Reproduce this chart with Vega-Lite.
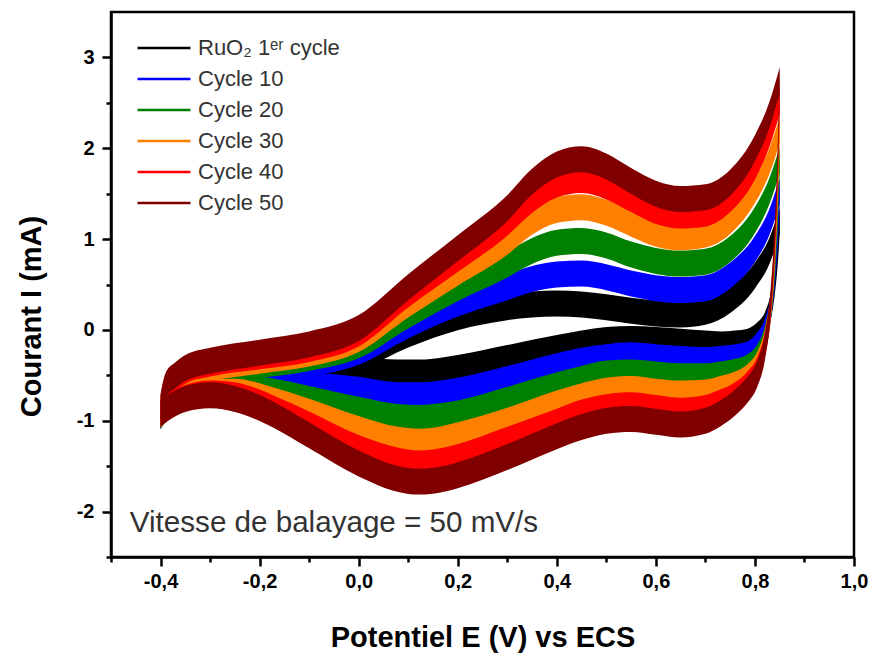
{
  "$schema": "https://vega.github.io/schema/vega-lite/v6.json",
  "width": 743,
  "height": 545,
  "autosize": {"type": "none"},
  "padding": {"left": 111, "top": 12, "right": 18, "bottom": 100},
  "background": "white",
  "config": {
    "font": "Liberation Sans",
    "view": {"stroke": "black", "strokeWidth": 2.5}
  },
  "datasets": {
    "curves": [
      {"c":"RuO₂ 1ᵉʳ cycle","b":"a","E":-0.4,"I":-0.95},{"c":"RuO₂ 1ᵉʳ cycle","b":"a","E":-0.39,"I":-0.78},{"c":"RuO₂ 1ᵉʳ cycle","b":"a","E":-0.37,"I":-0.68},{"c":"RuO₂ 1ᵉʳ cycle","b":"a","E":-0.35,"I":-0.62},{"c":"RuO₂ 1ᵉʳ cycle","b":"a","E":-0.3,"I":-0.56},{"c":"RuO₂ 1ᵉʳ cycle","b":"a","E":-0.2,"I":-0.49},{"c":"RuO₂ 1ᵉʳ cycle","b":"a","E":-0.1,"I":-0.42},{"c":"RuO₂ 1ᵉʳ cycle","b":"a","E":0.0,"I":-0.3},{"c":"RuO₂ 1ᵉʳ cycle","b":"a","E":0.1,"I":-0.05},{"c":"RuO₂ 1ᵉʳ cycle","b":"a","E":0.2,"I":0.14},{"c":"RuO₂ 1ᵉʳ cycle","b":"a","E":0.3,"I":0.25},{"c":"RuO₂ 1ᵉʳ cycle","b":"a","E":0.35,"I":0.28},{"c":"RuO₂ 1ᵉʳ cycle","b":"a","E":0.4,"I":0.29},{"c":"RuO₂ 1ᵉʳ cycle","b":"a","E":0.45,"I":0.28},{"c":"RuO₂ 1ᵉʳ cycle","b":"a","E":0.5,"I":0.25},{"c":"RuO₂ 1ᵉʳ cycle","b":"a","E":0.55,"I":0.21},{"c":"RuO₂ 1ᵉʳ cycle","b":"a","E":0.6,"I":0.18},{"c":"RuO₂ 1ᵉʳ cycle","b":"a","E":0.65,"I":0.17},{"c":"RuO₂ 1ᵉʳ cycle","b":"a","E":0.7,"I":0.2},{"c":"RuO₂ 1ᵉʳ cycle","b":"a","E":0.75,"I":0.33},{"c":"RuO₂ 1ᵉʳ cycle","b":"a","E":0.8,"I":0.6},{"c":"RuO₂ 1ᵉʳ cycle","b":"a","E":0.83,"I":0.88},{"c":"RuO₂ 1ᵉʳ cycle","b":"a","E":0.85,"I":1.2},
      {"c":"RuO₂ 1ᵉʳ cycle","b":"c","E":0.85,"I":1.2},{"c":"RuO₂ 1ᵉʳ cycle","b":"c","E":0.846,"I":0.86},{"c":"RuO₂ 1ᵉʳ cycle","b":"c","E":0.84,"I":0.53},{"c":"RuO₂ 1ᵉʳ cycle","b":"c","E":0.832,"I":0.26},{"c":"RuO₂ 1ᵉʳ cycle","b":"c","E":0.82,"I":0.05},{"c":"RuO₂ 1ᵉʳ cycle","b":"c","E":0.805,"I":-0.06},{"c":"RuO₂ 1ᵉʳ cycle","b":"c","E":0.785,"I":-0.13},
      {"c":"RuO₂ 1ᵉʳ cycle","b":"c","E":0.76,"I":-0.15},{"c":"RuO₂ 1ᵉʳ cycle","b":"c","E":0.73,"I":-0.16},{"c":"RuO₂ 1ᵉʳ cycle","b":"c","E":0.7,"I":-0.15},{"c":"RuO₂ 1ᵉʳ cycle","b":"c","E":0.65,"I":-0.13},{"c":"RuO₂ 1ᵉʳ cycle","b":"c","E":0.6,"I":-0.11},{"c":"RuO₂ 1ᵉʳ cycle","b":"c","E":0.55,"I":-0.1},{"c":"RuO₂ 1ᵉʳ cycle","b":"c","E":0.5,"I":-0.11},{"c":"RuO₂ 1ᵉʳ cycle","b":"c","E":0.45,"I":-0.15},{"c":"RuO₂ 1ᵉʳ cycle","b":"c","E":0.4,"I":-0.2},{"c":"RuO₂ 1ᵉʳ cycle","b":"c","E":0.3,"I":-0.31},{"c":"RuO₂ 1ᵉʳ cycle","b":"c","E":0.2,"I":-0.42},{"c":"RuO₂ 1ᵉʳ cycle","b":"c","E":0.15,"I":-0.46},{"c":"RuO₂ 1ᵉʳ cycle","b":"c","E":0.12,"I":-0.47},{"c":"RuO₂ 1ᵉʳ cycle","b":"c","E":0.08,"I":-0.47},{"c":"RuO₂ 1ᵉʳ cycle","b":"c","E":0.0,"I":-0.45},{"c":"RuO₂ 1ᵉʳ cycle","b":"c","E":-0.1,"I":-0.47},{"c":"RuO₂ 1ᵉʳ cycle","b":"c","E":-0.17,"I":-0.5},{"c":"RuO₂ 1ᵉʳ cycle","b":"c","E":-0.2,"I":-0.52},{"c":"RuO₂ 1ᵉʳ cycle","b":"c","E":-0.25,"I":-0.55},{"c":"RuO₂ 1ᵉʳ cycle","b":"c","E":-0.3,"I":-0.6},{"c":"RuO₂ 1ᵉʳ cycle","b":"c","E":-0.35,"I":-0.7},{"c":"RuO₂ 1ᵉʳ cycle","b":"c","E":-0.38,"I":-0.8},{"c":"RuO₂ 1ᵉʳ cycle","b":"c","E":-0.4,"I":-0.95},

      {"c":"Cycle 10","b":"a","E":-0.4,"I":-0.93},{"c":"Cycle 10","b":"a","E":-0.39,"I":-0.75},{"c":"Cycle 10","b":"a","E":-0.37,"I":-0.64},{"c":"Cycle 10","b":"a","E":-0.35,"I":-0.58},{"c":"Cycle 10","b":"a","E":-0.3,"I":-0.51},{"c":"Cycle 10","b":"a","E":-0.2,"I":-0.44},{"c":"Cycle 10","b":"a","E":-0.1,"I":-0.37},{"c":"Cycle 10","b":"a","E":0.0,"I":-0.24},{"c":"Cycle 10","b":"a","E":0.1,"I":0.05},{"c":"Cycle 10","b":"a","E":0.2,"I":0.29},{"c":"Cycle 10","b":"a","E":0.3,"I":0.47},{"c":"Cycle 10","b":"a","E":0.35,"I":0.56},{"c":"Cycle 10","b":"a","E":0.4,"I":0.61},{"c":"Cycle 10","b":"a","E":0.45,"I":0.62},{"c":"Cycle 10","b":"a","E":0.5,"I":0.58},{"c":"Cycle 10","b":"a","E":0.55,"I":0.51},{"c":"Cycle 10","b":"a","E":0.6,"I":0.46},{"c":"Cycle 10","b":"a","E":0.65,"I":0.44},{"c":"Cycle 10","b":"a","E":0.7,"I":0.46},{"c":"Cycle 10","b":"a","E":0.75,"I":0.6},{"c":"Cycle 10","b":"a","E":0.8,"I":0.89},{"c":"Cycle 10","b":"a","E":0.83,"I":1.2},{"c":"Cycle 10","b":"a","E":0.85,"I":1.53},
      {"c":"Cycle 10","b":"c","E":0.85,"I":1.53},{"c":"Cycle 10","b":"c","E":0.846,"I":1.07},{"c":"Cycle 10","b":"c","E":0.84,"I":0.62},{"c":"Cycle 10","b":"c","E":0.832,"I":0.25},{"c":"Cycle 10","b":"c","E":0.82,"I":-0.02},{"c":"Cycle 10","b":"c","E":0.805,"I":-0.17},{"c":"Cycle 10","b":"c","E":0.785,"I":-0.27},
      {"c":"Cycle 10","b":"c","E":0.76,"I":-0.3},{"c":"Cycle 10","b":"c","E":0.73,"I":-0.32},{"c":"Cycle 10","b":"c","E":0.7,"I":-0.33},{"c":"Cycle 10","b":"c","E":0.65,"I":-0.32},{"c":"Cycle 10","b":"c","E":0.6,"I":-0.3},{"c":"Cycle 10","b":"c","E":0.55,"I":-0.28},{"c":"Cycle 10","b":"c","E":0.5,"I":-0.3},{"c":"Cycle 10","b":"c","E":0.45,"I":-0.34},{"c":"Cycle 10","b":"c","E":0.4,"I":-0.4},{"c":"Cycle 10","b":"c","E":0.3,"I":-0.54},{"c":"Cycle 10","b":"c","E":0.2,"I":-0.67},{"c":"Cycle 10","b":"c","E":0.15,"I":-0.71},{"c":"Cycle 10","b":"c","E":0.12,"I":-0.72},{"c":"Cycle 10","b":"c","E":0.08,"I":-0.72},{"c":"Cycle 10","b":"c","E":0.0,"I":-0.66},{"c":"Cycle 10","b":"c","E":-0.1,"I":-0.61},{"c":"Cycle 10","b":"c","E":-0.17,"I":-0.59},{"c":"Cycle 10","b":"c","E":-0.2,"I":-0.59},{"c":"Cycle 10","b":"c","E":-0.25,"I":-0.59},{"c":"Cycle 10","b":"c","E":-0.3,"I":-0.63},{"c":"Cycle 10","b":"c","E":-0.35,"I":-0.71},{"c":"Cycle 10","b":"c","E":-0.38,"I":-0.81},{"c":"Cycle 10","b":"c","E":-0.4,"I":-0.94},

      {"c":"Cycle 20","b":"a","E":-0.4,"I":-0.91},{"c":"Cycle 20","b":"a","E":-0.39,"I":-0.71},{"c":"Cycle 20","b":"a","E":-0.37,"I":-0.6},{"c":"Cycle 20","b":"a","E":-0.35,"I":-0.53},{"c":"Cycle 20","b":"a","E":-0.3,"I":-0.47},{"c":"Cycle 20","b":"a","E":-0.2,"I":-0.39},{"c":"Cycle 20","b":"a","E":-0.1,"I":-0.31},{"c":"Cycle 20","b":"a","E":0.0,"I":-0.17},{"c":"Cycle 20","b":"a","E":0.1,"I":0.16},{"c":"Cycle 20","b":"a","E":0.2,"I":0.46},{"c":"Cycle 20","b":"a","E":0.3,"I":0.72},{"c":"Cycle 20","b":"a","E":0.35,"I":0.87},{"c":"Cycle 20","b":"a","E":0.4,"I":0.96},{"c":"Cycle 20","b":"a","E":0.45,"I":0.98},{"c":"Cycle 20","b":"a","E":0.5,"I":0.93},{"c":"Cycle 20","b":"a","E":0.55,"I":0.83},{"c":"Cycle 20","b":"a","E":0.6,"I":0.76},{"c":"Cycle 20","b":"a","E":0.65,"I":0.73},{"c":"Cycle 20","b":"a","E":0.7,"I":0.75},{"c":"Cycle 20","b":"a","E":0.75,"I":0.89},{"c":"Cycle 20","b":"a","E":0.8,"I":1.21},{"c":"Cycle 20","b":"a","E":0.83,"I":1.54},{"c":"Cycle 20","b":"a","E":0.85,"I":1.87},
      {"c":"Cycle 20","b":"c","E":0.85,"I":1.87},{"c":"Cycle 20","b":"c","E":0.846,"I":1.29},{"c":"Cycle 20","b":"c","E":0.84,"I":0.71},{"c":"Cycle 20","b":"c","E":0.832,"I":0.25},{"c":"Cycle 20","b":"c","E":0.82,"I":-0.1},{"c":"Cycle 20","b":"c","E":0.805,"I":-0.3},{"c":"Cycle 20","b":"c","E":0.785,"I":-0.41},
      {"c":"Cycle 20","b":"c","E":0.76,"I":-0.46},{"c":"Cycle 20","b":"c","E":0.73,"I":-0.49},{"c":"Cycle 20","b":"c","E":0.7,"I":-0.51},{"c":"Cycle 20","b":"c","E":0.65,"I":-0.51},{"c":"Cycle 20","b":"c","E":0.6,"I":-0.49},{"c":"Cycle 20","b":"c","E":0.55,"I":-0.47},{"c":"Cycle 20","b":"c","E":0.5,"I":-0.48},{"c":"Cycle 20","b":"c","E":0.45,"I":-0.54},{"c":"Cycle 20","b":"c","E":0.4,"I":-0.61},{"c":"Cycle 20","b":"c","E":0.3,"I":-0.77},{"c":"Cycle 20","b":"c","E":0.2,"I":-0.92},{"c":"Cycle 20","b":"c","E":0.15,"I":-0.96},{"c":"Cycle 20","b":"c","E":0.12,"I":-0.97},{"c":"Cycle 20","b":"c","E":0.08,"I":-0.96},{"c":"Cycle 20","b":"c","E":0.0,"I":-0.88},{"c":"Cycle 20","b":"c","E":-0.1,"I":-0.76},{"c":"Cycle 20","b":"c","E":-0.17,"I":-0.68},{"c":"Cycle 20","b":"c","E":-0.2,"I":-0.66},{"c":"Cycle 20","b":"c","E":-0.25,"I":-0.64},{"c":"Cycle 20","b":"c","E":-0.3,"I":-0.65},{"c":"Cycle 20","b":"c","E":-0.35,"I":-0.73},{"c":"Cycle 20","b":"c","E":-0.38,"I":-0.82},{"c":"Cycle 20","b":"c","E":-0.4,"I":-0.94},

      {"c":"Cycle 30","b":"a","E":-0.4,"I":-0.89},{"c":"Cycle 30","b":"a","E":-0.39,"I":-0.68},{"c":"Cycle 30","b":"a","E":-0.37,"I":-0.56},{"c":"Cycle 30","b":"a","E":-0.35,"I":-0.49},{"c":"Cycle 30","b":"a","E":-0.3,"I":-0.42},{"c":"Cycle 30","b":"a","E":-0.2,"I":-0.34},{"c":"Cycle 30","b":"a","E":-0.1,"I":-0.26},{"c":"Cycle 30","b":"a","E":0.0,"I":-0.1},{"c":"Cycle 30","b":"a","E":0.1,"I":0.28},{"c":"Cycle 30","b":"a","E":0.2,"I":0.63},{"c":"Cycle 30","b":"a","E":0.3,"I":0.97},{"c":"Cycle 30","b":"a","E":0.35,"I":1.19},{"c":"Cycle 30","b":"a","E":0.4,"I":1.32},{"c":"Cycle 30","b":"a","E":0.45,"I":1.35},{"c":"Cycle 30","b":"a","E":0.5,"I":1.29},{"c":"Cycle 30","b":"a","E":0.55,"I":1.17},{"c":"Cycle 30","b":"a","E":0.6,"I":1.06},{"c":"Cycle 30","b":"a","E":0.65,"I":1.02},{"c":"Cycle 30","b":"a","E":0.7,"I":1.05},{"c":"Cycle 30","b":"a","E":0.75,"I":1.2},{"c":"Cycle 30","b":"a","E":0.8,"I":1.54},{"c":"Cycle 30","b":"a","E":0.83,"I":1.87},{"c":"Cycle 30","b":"a","E":0.85,"I":2.2},
      {"c":"Cycle 30","b":"c","E":0.85,"I":2.2},{"c":"Cycle 30","b":"c","E":0.846,"I":1.5},{"c":"Cycle 30","b":"c","E":0.84,"I":0.81},{"c":"Cycle 30","b":"c","E":0.832,"I":0.26},{"c":"Cycle 30","b":"c","E":0.82,"I":-0.14},{"c":"Cycle 30","b":"c","E":0.805,"I":-0.38},{"c":"Cycle 30","b":"c","E":0.785,"I":-0.52},
      {"c":"Cycle 30","b":"c","E":0.76,"I":-0.6},{"c":"Cycle 30","b":"c","E":0.73,"I":-0.65},{"c":"Cycle 30","b":"c","E":0.7,"I":-0.69},{"c":"Cycle 30","b":"c","E":0.65,"I":-0.7},{"c":"Cycle 30","b":"c","E":0.6,"I":-0.68},{"c":"Cycle 30","b":"c","E":0.55,"I":-0.65},{"c":"Cycle 30","b":"c","E":0.5,"I":-0.67},{"c":"Cycle 30","b":"c","E":0.45,"I":-0.73},{"c":"Cycle 30","b":"c","E":0.4,"I":-0.81},{"c":"Cycle 30","b":"c","E":0.3,"I":-1.0},{"c":"Cycle 30","b":"c","E":0.2,"I":-1.16},{"c":"Cycle 30","b":"c","E":0.15,"I":-1.22},{"c":"Cycle 30","b":"c","E":0.12,"I":-1.23},{"c":"Cycle 30","b":"c","E":0.08,"I":-1.21},{"c":"Cycle 30","b":"c","E":0.0,"I":-1.09},{"c":"Cycle 30","b":"c","E":-0.1,"I":-0.9},{"c":"Cycle 30","b":"c","E":-0.17,"I":-0.78},{"c":"Cycle 30","b":"c","E":-0.2,"I":-0.73},{"c":"Cycle 30","b":"c","E":-0.25,"I":-0.68},{"c":"Cycle 30","b":"c","E":-0.3,"I":-0.68},{"c":"Cycle 30","b":"c","E":-0.35,"I":-0.74},{"c":"Cycle 30","b":"c","E":-0.38,"I":-0.83},{"c":"Cycle 30","b":"c","E":-0.4,"I":-0.93},

      {"c":"Cycle 40","b":"a","E":-0.4,"I":-0.87},{"c":"Cycle 40","b":"a","E":-0.39,"I":-0.64},{"c":"Cycle 40","b":"a","E":-0.37,"I":-0.53},{"c":"Cycle 40","b":"a","E":-0.35,"I":-0.45},{"c":"Cycle 40","b":"a","E":-0.3,"I":-0.37},{"c":"Cycle 40","b":"a","E":-0.2,"I":-0.29},{"c":"Cycle 40","b":"a","E":-0.1,"I":-0.21},{"c":"Cycle 40","b":"a","E":0.0,"I":-0.04},{"c":"Cycle 40","b":"a","E":0.1,"I":0.39},{"c":"Cycle 40","b":"a","E":0.2,"I":0.78},{"c":"Cycle 40","b":"a","E":0.3,"I":1.18},{"c":"Cycle 40","b":"a","E":0.35,"I":1.43},{"c":"Cycle 40","b":"a","E":0.4,"I":1.6},{"c":"Cycle 40","b":"a","E":0.45,"I":1.65},{"c":"Cycle 40","b":"a","E":0.5,"I":1.58},{"c":"Cycle 40","b":"a","E":0.55,"I":1.44},{"c":"Cycle 40","b":"a","E":0.6,"I":1.31},{"c":"Cycle 40","b":"a","E":0.65,"I":1.26},{"c":"Cycle 40","b":"a","E":0.7,"I":1.28},{"c":"Cycle 40","b":"a","E":0.75,"I":1.44},{"c":"Cycle 40","b":"a","E":0.8,"I":1.8},{"c":"Cycle 40","b":"a","E":0.83,"I":2.17},{"c":"Cycle 40","b":"a","E":0.85,"I":2.52},
      {"c":"Cycle 40","b":"c","E":0.85,"I":2.52},{"c":"Cycle 40","b":"c","E":0.846,"I":1.73},{"c":"Cycle 40","b":"c","E":0.84,"I":0.93},{"c":"Cycle 40","b":"c","E":0.832,"I":0.29},{"c":"Cycle 40","b":"c","E":0.82,"I":-0.17},{"c":"Cycle 40","b":"c","E":0.805,"I":-0.44},{"c":"Cycle 40","b":"c","E":0.785,"I":-0.6},
      {"c":"Cycle 40","b":"c","E":0.76,"I":-0.72},{"c":"Cycle 40","b":"c","E":0.73,"I":-0.8},{"c":"Cycle 40","b":"c","E":0.7,"I":-0.86},{"c":"Cycle 40","b":"c","E":0.65,"I":-0.89},{"c":"Cycle 40","b":"c","E":0.6,"I":-0.86},{"c":"Cycle 40","b":"c","E":0.55,"I":-0.83},{"c":"Cycle 40","b":"c","E":0.5,"I":-0.85},{"c":"Cycle 40","b":"c","E":0.45,"I":-0.91},{"c":"Cycle 40","b":"c","E":0.4,"I":-1.01},{"c":"Cycle 40","b":"c","E":0.3,"I":-1.21},{"c":"Cycle 40","b":"c","E":0.2,"I":-1.4},{"c":"Cycle 40","b":"c","E":0.15,"I":-1.46},{"c":"Cycle 40","b":"c","E":0.12,"I":-1.47},{"c":"Cycle 40","b":"c","E":0.08,"I":-1.44},{"c":"Cycle 40","b":"c","E":0.0,"I":-1.3},{"c":"Cycle 40","b":"c","E":-0.1,"I":-1.04},{"c":"Cycle 40","b":"c","E":-0.17,"I":-0.87},{"c":"Cycle 40","b":"c","E":-0.2,"I":-0.8},{"c":"Cycle 40","b":"c","E":-0.25,"I":-0.72},{"c":"Cycle 40","b":"c","E":-0.3,"I":-0.7},{"c":"Cycle 40","b":"c","E":-0.35,"I":-0.75},{"c":"Cycle 40","b":"c","E":-0.38,"I":-0.83},{"c":"Cycle 40","b":"c","E":-0.4,"I":-0.92},

      {"c":"Cycle 50","b":"a","E":-0.4,"I":-0.85},{"c":"Cycle 50","b":"a","E":-0.39,"I":-0.62},{"c":"Cycle 50","b":"a","E":-0.37,"I":-0.5},{"c":"Cycle 50","b":"a","E":-0.35,"I":-0.42},{"c":"Cycle 50","b":"a","E":-0.3,"I":-0.34},{"c":"Cycle 50","b":"a","E":-0.2,"I":-0.25},{"c":"Cycle 50","b":"a","E":-0.1,"I":-0.16},{"c":"Cycle 50","b":"a","E":0.0,"I":0.02},{"c":"Cycle 50","b":"a","E":0.1,"I":0.47},{"c":"Cycle 50","b":"a","E":0.2,"I":0.9},{"c":"Cycle 50","b":"a","E":0.3,"I":1.34},{"c":"Cycle 50","b":"a","E":0.35,"I":1.63},{"c":"Cycle 50","b":"a","E":0.4,"I":1.82},{"c":"Cycle 50","b":"a","E":0.45,"I":1.88},{"c":"Cycle 50","b":"a","E":0.5,"I":1.8},{"c":"Cycle 50","b":"a","E":0.55,"I":1.64},{"c":"Cycle 50","b":"a","E":0.6,"I":1.5},{"c":"Cycle 50","b":"a","E":0.65,"I":1.44},{"c":"Cycle 50","b":"a","E":0.7,"I":1.46},{"c":"Cycle 50","b":"a","E":0.75,"I":1.62},{"c":"Cycle 50","b":"a","E":0.8,"I":2.0},{"c":"Cycle 50","b":"a","E":0.83,"I":2.38},{"c":"Cycle 50","b":"a","E":0.85,"I":2.75},
      {"c":"Cycle 50","b":"c","E":0.85,"I":2.75},{"c":"Cycle 50","b":"c","E":0.846,"I":1.88},{"c":"Cycle 50","b":"c","E":0.84,"I":1.02},{"c":"Cycle 50","b":"c","E":0.832,"I":0.32},{"c":"Cycle 50","b":"c","E":0.82,"I":-0.19},{"c":"Cycle 50","b":"c","E":0.805,"I":-0.48},{"c":"Cycle 50","b":"c","E":0.785,"I":-0.66},
      {"c":"Cycle 50","b":"c","E":0.76,"I":-0.8},{"c":"Cycle 50","b":"c","E":0.73,"I":-0.92},{"c":"Cycle 50","b":"c","E":0.7,"I":-1.0},{"c":"Cycle 50","b":"c","E":0.65,"I":-1.04},{"c":"Cycle 50","b":"c","E":0.6,"I":-1.01},{"c":"Cycle 50","b":"c","E":0.55,"I":-0.98},{"c":"Cycle 50","b":"c","E":0.5,"I":-1.0},{"c":"Cycle 50","b":"c","E":0.45,"I":-1.07},{"c":"Cycle 50","b":"c","E":0.4,"I":-1.17},{"c":"Cycle 50","b":"c","E":0.3,"I":-1.4},{"c":"Cycle 50","b":"c","E":0.2,"I":-1.6},{"c":"Cycle 50","b":"c","E":0.15,"I":-1.66},{"c":"Cycle 50","b":"c","E":0.12,"I":-1.67},{"c":"Cycle 50","b":"c","E":0.08,"I":-1.64},{"c":"Cycle 50","b":"c","E":0.0,"I":-1.47},{"c":"Cycle 50","b":"c","E":-0.1,"I":-1.16},{"c":"Cycle 50","b":"c","E":-0.17,"I":-0.94},{"c":"Cycle 50","b":"c","E":-0.2,"I":-0.86},{"c":"Cycle 50","b":"c","E":-0.25,"I":-0.76},{"c":"Cycle 50","b":"c","E":-0.3,"I":-0.72},{"c":"Cycle 50","b":"c","E":-0.35,"I":-0.76},{"c":"Cycle 50","b":"c","E":-0.38,"I":-0.84},{"c":"Cycle 50","b":"c","E":-0.4,"I":-0.92}
    ],
    "note": [{"E": -0.462, "I": -2.13, "t": "Vitesse de balayage = 50 mV/s"}]
  },
  "layer": [
    {
      "data": {"name": "curves"},
      "mark": {"type": "area", "interpolate": "monotone", "yOffset": -13, "y2Offset": 13, "clip": true},
      "encoding": {
        "x": {
          "field": "E", "type": "quantitative",
          "scale": {"domain": [-0.5, 1.0], "nice": false, "zero": false},
          "axis": {
            "values": [-0.5, -0.4, -0.3, -0.2, -0.1, 0, 0.1, 0.2, 0.3, 0.4, 0.5, 0.6, 0.7, 0.8, 0.9, 1.0],
            "labelExpr": "round(datum.value*10) % 2 != 0 ? '' : replace((datum.value < 0 ? '-' : '') + format(abs(datum.value), '.1f'), '.', ',')",
            "grid": false,
            "domain": true, "domainColor": "black", "domainWidth": 2.5,
            "ticks": true, "tickColor": "black", "tickWidth": 2.5,
            "tickSize": {"condition": {"test": "round(datum.value*10) % 2 != 0", "value": 5}, "value": 9},
            "labelFont": "Liberation Sans", "labelFontWeight": "bold", "labelFontSize": 20, "labelColor": "black", "labelPadding": 5,
            "labelOverlap": false, "labelFlush": false,
            "title": "Potentiel E (V) vs ECS",
            "titleFont": "Liberation Sans", "titleFontWeight": "bold", "titleFontSize": 29, "titleColor": "black", "titlePadding": 32
          }
        },
        "y": {
          "field": "I", "type": "quantitative", "stack": null,
          "scale": {"domain": [-2.5, 3.5], "nice": false, "zero": false},
          "axis": {
            "values": [-2.5, -2, -1.5, -1, -0.5, 0, 0.5, 1, 1.5, 2, 2.5, 3],
            "labelExpr": "round(datum.value*2) % 2 != 0 ? '' : (datum.value < 0 ? '-' : '') + format(abs(datum.value), 'd')",
            "grid": false,
            "domain": true, "domainColor": "black", "domainWidth": 2.5,
            "ticks": true, "tickColor": "black", "tickWidth": 2.5,
            "tickSize": {"condition": {"test": "round(datum.value*2) % 2 != 0", "value": 5}, "value": 9},
            "labelFont": "Liberation Sans", "labelFontWeight": "bold", "labelFontSize": 20, "labelColor": "black", "labelPadding": 8,
            "labelOverlap": false, "labelFlush": false,
            "title": "Courant I (mA)", "titleY": 304,
            "titleFont": "Liberation Sans", "titleFontWeight": "bold", "titleFontSize": 29, "titleColor": "black", "titlePadding": 30
          }
        },
        "y2": {"field": "I"},
        "color": {
          "field": "c", "type": "nominal",
          "scale": {
            "domain": ["RuO₂ 1ᵉʳ cycle", "Cycle 10", "Cycle 20", "Cycle 30", "Cycle 40", "Cycle 50"],
            "range": ["#000000", "#0000ff", "#008000", "#ff8000", "#ff0000", "#800000"]
          },
          "legend": {
            "orient": "none", "legendX": 41, "legendY": 24,
            "title": null, "symbolType": "M-2.5,0H2.5", "symbolSize": 449, "symbolStrokeWidth": 2.5,
            "symbolFillColor": "transparent",
            "labelFont": "Liberation Sans", "labelFontSize": 22, "labelColor": "#333333", "labelOffset": 22,
            "rowPadding": 8, "padding": 0, "labelLimit": 300,
            "encode": {"symbols": {"update": {"stroke": {"scale": "color", "field": "value"}, "strokeWidth": {"value": 2.5}, "fill": {"value": "transparent"}}}}
          }
        },
        "detail": {"field": "b"},
        "order": {"value": null}
      }
    },
    {
      "data": {"name": "note"},
      "mark": {"type": "text", "align": "left", "baseline": "middle", "font": "Liberation Sans", "fontSize": 29.6, "color": "#333333"},
      "encoding": {
        "x": {"field": "E", "type": "quantitative"},
        "y": {"field": "I", "type": "quantitative"},
        "text": {"field": "t"}
      }
    }
  ]
}
